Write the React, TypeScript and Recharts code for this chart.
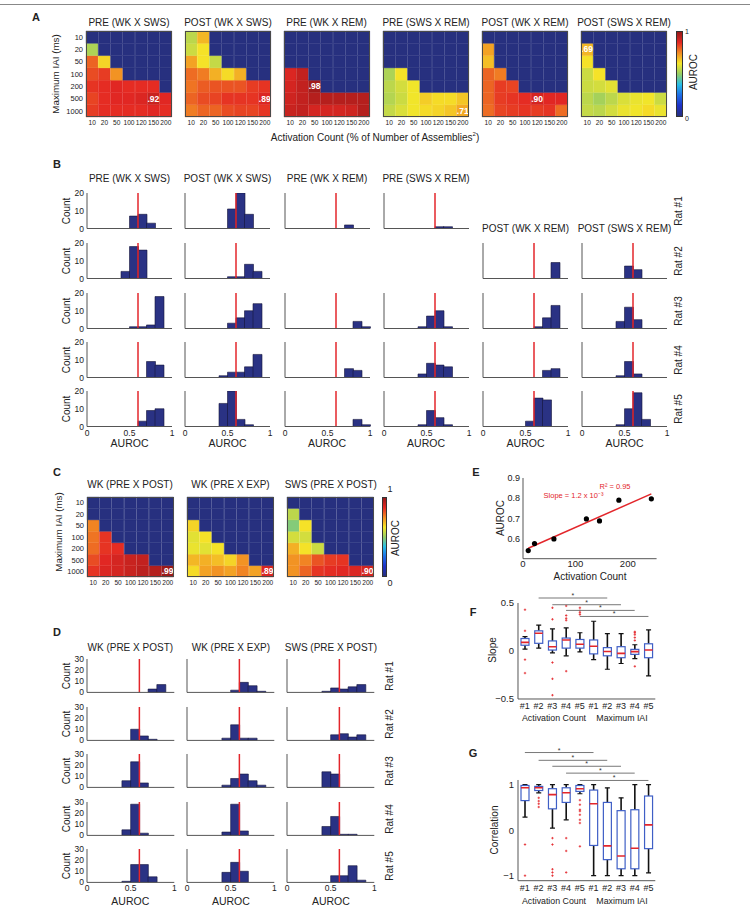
import React from "react";
import {
  BarChart,
  Bar,
  XAxis,
  YAxis,
  Cell,
  LabelList,
  ReferenceLine,
  ScatterChart,
  Scatter,
  ComposedChart,
} from "recharts";

const FONT = '"Liberation Sans", Arial, Helvetica, sans-serif';
const INK = "#222";
const AXIS = "#555";
const NAVY = "#2a3284";
const MASK = "#27307f";
const RED = "#e3262b";
const BOX_BLUE = "#3f5fc6";

// ---------- heatmaps (A, C) ----------
const ACT_COUNT = ["10", "20", "50", "100", "120", "150", "200"];
const MAX_IAI = ["10", "20", "50", "100", "200", "500", "1000"];
const _ = null;

// rows: max IAI 10 -> 1000 ms, cols: activation count 10 -> 200
const preWkSws = [
  [_, _, _, _, _, _, _],
  [0.53, _, _, _, _, _, _],
  [0.8, 0.65, _, _, _, _, _],
  [0.83, 0.85, 0.74, _, _, _, _],
  [0.86, 0.87, 0.88, 0.87, 0.87, 0.87, _],
  [0.84, 0.87, 0.88, 0.88, 0.89, 0.92, 0.88],
  [0.85, 0.87, 0.87, 0.87, 0.87, 0.88, 0.87],
];
const postWkSws = [
  [0.55, 0.69, _, _, _, _, _],
  [0.57, 0.63, _, _, _, _, _],
  [0.72, 0.63, 0.56, _, _, _, _],
  [0.79, 0.77, 0.7, 0.64, 0.7, _, _],
  [0.78, 0.81, 0.82, 0.82, 0.82, 0.85, 0.86],
  [0.8, 0.83, 0.84, 0.86, 0.86, 0.86, 0.89],
  [0.77, 0.8, 0.8, 0.83, 0.84, 0.84, 0.86],
];
const preWkRem = [
  [_, _, _, _, _, _, _],
  [_, _, _, _, _, _, _],
  [_, _, _, _, _, _, _],
  [0.89, 0.93, _, _, _, _, _],
  [0.9, 0.93, 0.98, _, _, _, _],
  [0.91, 0.93, 0.95, 0.95, 0.95, 0.95, 0.95],
  [0.92, 0.93, 0.9, 0.9, 0.9, 0.91, 0.95],
];
const preSwsRem = [
  [_, _, _, _, _, _, _],
  [_, _, _, _, _, _, _],
  [_, _, _, _, _, _, _],
  [0.53, 0.63, _, _, _, _, _],
  [0.55, 0.58, 0.62, _, _, _, _],
  [0.54, 0.57, 0.62, 0.66, 0.64, 0.64, 0.67],
  [0.56, 0.59, 0.62, 0.64, 0.65, 0.67, 0.71],
];
const postWkRem = [
  [_, _, _, _, _, _, _],
  [0.72, _, _, _, _, _, _],
  [0.68, _, _, _, _, _, _],
  [0.8, 0.77, _, _, _, _, _],
  [0.8, 0.85, 0.84, _, _, _, _],
  [0.8, 0.85, 0.86, 0.87, 0.9, 0.88, 0.88],
  [0.79, 0.84, 0.85, 0.86, 0.85, 0.86, 0.79],
];
const postSwsRem = [
  [_, _, _, _, _, _, _],
  [0.69, _, _, _, _, _, _],
  [0.63, _, _, _, _, _, _],
  [0.57, 0.63, _, _, _, _, _],
  [0.57, 0.58, 0.6, _, _, _, _],
  [0.55, 0.52, 0.55, 0.59, 0.61, 0.62, 0.57],
  [0.56, 0.55, 0.58, 0.61, 0.62, 0.64, 0.61],
];
const wkPrePost = [
  [_, _, _, _, _, _, _],
  [_, _, _, _, _, _, _],
  [0.76, _, _, _, _, _, _],
  [0.78, 0.86, _, _, _, _, _],
  [0.79, 0.86, 0.87, _, _, _, _],
  [0.83, 0.88, 0.9, 0.92, 0.93, _, _],
  [0.86, 0.89, 0.9, 0.92, 0.94, 0.95, 0.99],
];
const wkPreExp = [
  [_, _, _, _, _, _, _],
  [_, _, _, _, _, _, _],
  [0.65, _, _, _, _, _, _],
  [0.6, 0.63, _, _, _, _, _],
  [0.61, 0.6, 0.63, _, _, _, _],
  [0.69, 0.7, 0.68, 0.65, 0.74, _, _],
  [0.64, 0.72, 0.74, 0.72, 0.76, 0.72, 0.89],
];
const swsPrePost = [
  [_, _, _, _, _, _, _],
  [0.55, _, _, _, _, _, _],
  [0.48, 0.63, _, _, _, _, _],
  [0.58, 0.58, _, _, _, _, _],
  [0.7, 0.63, 0.57, _, _, _, _],
  [0.74, 0.76, 0.82, 0.85, 0.86, _, _],
  [0.74, 0.8, 0.86, 0.87, 0.88, 0.89, 0.9],
];

const A_TITLES = ["PRE (WK X SWS)", "POST (WK X SWS)", "PRE (WK X REM)", "PRE (SWS X REM)", "POST (WK X REM)", "POST (SWS X REM)"];
const A_GRIDS = [preWkSws, postWkSws, preWkRem, preSwsRem, postWkRem, postSwsRem];
const C_TITLES = ["WK (PRE X POST)", "WK (PRE X EXP)", "SWS (PRE X POST)"];
const C_GRIDS = [wkPrePost, wkPreExp, swsPrePost];

// jet-like colour scale for AUROC 0..1
const CMAP: [number, number[]][] = [
  [0, [39, 48, 127]],
  [0.125, [30, 50, 200]],
  [0.25, [30, 110, 230]],
  [0.375, [40, 190, 230]],
  [0.5, [150, 205, 100]],
  [0.625, [245, 230, 40]],
  [0.75, [242, 140, 35]],
  [0.875, [228, 40, 35]],
  [1, [150, 25, 25]],
];
function aurocColor(v: number) {
  for (let k = 1; k < CMAP.length; k++) {
    const [p0, c0] = CMAP[k - 1];
    const [p1, c1] = CMAP[k];
    if (v <= p1) {
      const t = Math.max(0, (v - p0) / (p1 - p0));
      return `rgb(${c0.map((c, i) => Math.round(c + (c1[i] - c) * t)).join(",")})`;
    }
  }
  return `rgb(${CMAP[CMAP.length - 1][1].join(",")})`;
}
const GRADIENT = `linear-gradient(to top, ${CMAP.map(([p, c]) => `rgb(${c.join(",")}) ${p * 100}%`).join(", ")})`;

// ---------- histograms (B, D) ----------
const BIN_CENTERS = [0.05, 0.15, 0.25, 0.35, 0.45, 0.55, 0.65, 0.75, 0.85, 0.95];
const THRESHOLD = 0.6;
const RATS = ["Rat #1", "Rat #2", "Rat #3", "Rat #4", "Rat #5"];

const bPreWkSws = [
  [0, 0, 0, 0, 0, 7, 8, 3, 0, 0],
  [0, 0, 0, 0, 4, 18, 16, 0, 0, 0],
  [0, 0, 0, 0, 0, 1, 1, 2, 18, 0],
  [0, 0, 0, 0, 0, 0, 0, 9, 7, 0],
  [0, 0, 0, 0, 0, 0, 3, 9, 10, 0],
];
const bPostWkSws = [
  [0, 0, 0, 0, 0, 11, 20, 8, 0, 0],
  [0, 0, 0, 0, 0, 1, 1, 8, 4, 0],
  [0, 0, 0, 0, 0, 3, 6, 10, 14, 0],
  [0, 0, 0, 0, 1, 3, 3, 6, 13, 0],
  [0, 0, 0, 0, 13, 20, 4, 1, 0, 0],
];
const bPreWkRem = [
  [0, 0, 0, 0, 0, 0, 0, 2, 0, 0],
  null,
  [0, 0, 0, 0, 0, 0, 0, 0, 4, 1],
  [0, 0, 0, 0, 0, 0, 0, 5, 4, 0],
  [0, 0, 0, 0, 0, 0, 0, 0, 4, 1],
];
const bPreSwsRem = [
  [0, 0, 0, 0, 0, 0, 1, 1, 0, 0],
  null,
  [0, 0, 0, 0, 1, 7, 10, 1, 0, 0],
  [0, 0, 0, 0, 2, 8, 7, 6, 0, 0],
  [0, 0, 0, 0, 1, 9, 5, 1, 0, 0],
];
const bPostWkRem = [
  null,
  [0, 0, 0, 0, 0, 0, 0, 0, 9, 0],
  [0, 0, 0, 0, 0, 0, 1, 6, 13, 0],
  [0, 0, 0, 0, 0, 0, 0, 4, 5, 0],
  [0, 0, 0, 0, 0, 3, 16, 15, 0, 0],
];
const bPostSwsRem = [
  null,
  [0, 0, 0, 0, 0, 7, 5, 0, 0, 0],
  [0, 0, 0, 0, 4, 12, 5, 0, 0, 0],
  [0, 0, 0, 0, 1, 9, 2, 0, 0, 0],
  [0, 0, 0, 0, 1, 10, 19, 4, 0, 0],
];
const B_COLS = [bPreWkSws, bPostWkSws, bPreWkRem, bPreSwsRem, bPostWkRem, bPostSwsRem];

const dWkPrePost = [
  [0, 0, 0, 0, 0, 0, 0, 3, 7, 0],
  [0, 0, 0, 0, 0, 10, 4, 1, 0, 0],
  [0, 0, 0, 0, 6, 23, 4, 0, 0, 0],
  [0, 0, 0, 0, 5, 28, 2, 0, 0, 0],
  [0, 0, 0, 0, 1, 16, 16, 5, 0, 0],
];
const dWkPreExp = [
  [0, 0, 0, 0, 0, 2, 9, 6, 1, 0],
  [0, 0, 0, 0, 2, 14, 2, 2, 0, 0],
  [0, 0, 0, 0, 2, 8, 12, 6, 2, 0],
  [0, 0, 0, 0, 3, 28, 4, 0, 0, 0],
  [0, 0, 0, 0, 9, 18, 10, 0, 0, 0],
];
const dSwsPrePost = [
  [0, 0, 0, 0, 1, 4, 3, 5, 7, 0],
  [0, 0, 0, 0, 0, 5, 6, 3, 5, 0],
  [0, 0, 0, 0, 14, 12, 0, 0, 0, 0],
  [0, 0, 0, 0, 8, 17, 1, 1, 0, 0],
  [0, 0, 0, 0, 0, 6, 6, 15, 2, 0],
];
const D_COLS = [dWkPrePost, dWkPreExp, dSwsPrePost];

// ---------- E: AUROC vs activation count ----------
const E_COUNT = [10, 22, 59, 121, 146, 183, 245];
const E_AUROC = [0.54, 0.575, 0.598, 0.697, 0.687, 0.79, 0.797];

// ---------- F / G: box plots ----------
const GROUP_KEYS = ["ac1", "ac2", "ac3", "ac4", "ac5", "iai1", "iai2", "iai3", "iai4", "iai5"];

const F_LO = [0.02, 0.03, -0.02, -0.05, -0.01, -0.09, -0.19, -0.13, -0.08, -0.26];
const F_Q1 = [0.06, 0.08, 0.01, 0.03, 0.03, -0.03, -0.05, -0.07, -0.035, -0.07];
const F_MED = [0.09, 0.185, 0.045, 0.115, 0.07, 0.05, -0.005, -0.025, -0.007, 0.01];
const F_Q3 = [0.13, 0.21, 0.105, 0.135, 0.12, 0.115, 0.035, 0.045, 0.017, 0.075];
const F_HI = [0.15, 0.27, 0.23, 0.24, 0.19, 0.31, 0.18, 0.18, 0.065, 0.22];
const F_OUT = [
  [0.43, 0.21, -0.09, -0.23],
  [],
  [0.45, 0.33, -0.12, -0.29, -0.46],
  [0.47, 0.37, 0.34, 0.32, -0.21],
  [0.45, 0.42, 0.4, 0.38],
  [],
  [],
  [],
  [0.2, 0.19, 0.17, 0.14, 0.11, -0.16],
  [],
];
const F_SIG = [
  { from: "ac2", to: "iai2", at: 0.552 },
  { from: "ac3", to: "iai3", at: 0.482 },
  { from: "ac4", to: "iai4", at: 0.423 },
  { from: "ac5", to: "iai5", at: 0.36 },
];

const G_LO = [0.29, 0.82, 0.05, 0.23, 0.8, -0.99, -0.99, -0.99, -0.99, -0.93];
const G_Q1 = [0.65, 0.87, 0.47, 0.61, 0.85, -0.33, -0.64, -0.84, -0.84, -0.4];
const G_MED = [0.93, 0.93, 0.78, 0.82, 0.91, 0.58, -0.34, -0.56, -0.39, 0.12];
const G_Q3 = [0.98, 0.96, 0.91, 0.93, 0.98, 0.88, 0.61, 0.43, 0.45, 0.75];
const G_HI = [1.0, 1.0, 1.0, 1.0, 1.0, 1.0, 0.93, 0.71, 1.0, 1.0];
const G_OUT = [
  [-0.31, -0.99],
  [0.71, 0.64, 0.58, 0.51],
  [-0.17, -0.31, -0.85, -0.92, -0.99],
  [-0.17, -0.45, -0.92],
  [0.66, 0.56, 0.45, 0.42, 0.34, 0.23, 0.16, -0.35],
  [],
  [],
  [],
  [],
  [],
];
const G_SIG = [
  { from: "ac1", to: "iai1", at: 1.7 },
  { from: "ac2", to: "iai2", at: 1.53 },
  { from: "ac3", to: "iai3", at: 1.4 },
  { from: "ac4", to: "iai4", at: 1.25 },
  { from: "ac5", to: "iai5", at: 1.09 },
];

// ---------- layout ----------
const A_LEFT = [86, 185, 283.5, 383, 482, 581];
const C_LEFT = [86.5, 187, 287.3];
const B_LEFT = [87, 185, 284.5, 383.5, 483, 582];
const B_TOP = [193.3, 242.7, 292.7, 342.3, 390.7];
const D_LEFT = [86.7, 187.3, 287.3];
const D_TOP = [659.3, 706.7, 754, 801.7, 849.3];

function Txt({ x, y, size = 10, rot = 0, bold = false, color = INK, children }: any) {
  return (
    <div
      style={{
        position: "absolute",
        left: x,
        top: y,
        transform: `translate(-50%, -50%) rotate(${rot}deg)`,
        whiteSpace: "nowrap",
        fontSize: size,
        lineHeight: 1,
        fontWeight: bold ? "bold" : "normal",
        color,
        fontFamily: FONT,
      }}
    >
      {children}
    </div>
  );
}

const tickStyle = (size: number) => ({ fontSize: size, fill: INK, fontFamily: FONT });
const signed = (v: number) => (v < 0 ? "\u2212" + Math.abs(v) : String(v));

function bestLabel(p: any, best: number) {
  const vb = p.viewBox ?? p;
  if (p.value == null || p.value !== best) return null;
  return (
    <text
      x={vb.x + vb.width / 2}
      y={vb.y + vb.height / 2}
      dy="0.36em"
      textAnchor="middle"
      fill="#fff"
      fontSize={8.5}
      fontWeight="bold"
      fontFamily={FONT}
    >
      {p.value.toFixed(2).slice(1)}
    </text>
  );
}

function Heatmap({ x, y, w, h, grid, showY }: any) {
  const YW = 24, XH = 12, MT = 2, MR = 3;
  const best = Math.max(...grid.flat().filter((v: any) => v != null));
  const data = ACT_COUNT.map((ac, j) => {
    const d: any = { ac };
    MAX_IAI.forEach((_r, i) => {
      d[`u${i}`] = 1;
      d[`v${i}`] = grid[i][j];
    });
    return d;
  });
  const rowsBottomUp = [6, 5, 4, 3, 2, 1, 0];
  return (
    <>
      <div style={{ position: "absolute", left: x - YW, top: y - MT }}>
        <BarChart
          width={w + YW + MR}
          height={h + MT + XH}
          data={data}
          margin={{ top: MT, right: MR, bottom: 0, left: 0 }}
          barCategoryGap={0}
          barGap={0}
        >
          <XAxis
            dataKey="ac"
            interval={0}
            height={XH}
            tickLine={false}
            axisLine={false}
            tickSize={2}
            tickMargin={1}
            tick={tickStyle(6.6)}
          />
          <YAxis
            type="number"
            domain={[0, 7]}
            ticks={[0.5, 1.5, 2.5, 3.5, 4.5, 5.5, 6.5]}
            interval={0}
            width={YW}
            tickLine={false}
            axisLine={false}
            tickSize={2}
            tickMargin={1}
            tick={showY ? tickStyle(7.5) : false}
            tickFormatter={(v: number) => MAX_IAI[Math.round(6.5 - v)]}
          />
          {rowsBottomUp.map((i) => (
            <Bar key={i} dataKey={`u${i}`} stackId="cells" isAnimationActive={false}>
              {data.map((d, j) => {
                const v = d[`v${i}`];
                const c = v == null ? MASK : aurocColor(v);
                return <Cell key={j} fill={c} stroke={c} strokeWidth={0.4} />;
              })}
              <LabelList dataKey={`v${i}`} content={(p: any) => bestLabel(p, best)} />
            </Bar>
          ))}
        </BarChart>
      </div>
      <div
        style={{
          position: "absolute",
          left: x,
          top: y,
          width: w,
          height: h,
          border: "1px solid #4a4a4a",
          boxSizing: "border-box",
          pointerEvents: "none",
        }}
      />
    </>
  );
}

function Colorbar({ x, y, w, h }: any) {
  return (
    <div
      style={{
        position: "absolute",
        left: x,
        top: y,
        width: w,
        height: h,
        background: GRADIENT,
        border: "1px solid #333",
        boxSizing: "border-box",
      }}
    />
  );
}

function Hist({ x, y, w, h, counts, yMax, yTicks, showY, showX }: any) {
  const YW = 20, XH = 12, MT = 5, MR = 5;
  const data = BIN_CENTERS.map((c, i) => ({ bin: i, center: c, n: counts[i] > 0 ? counts[i] : null }));
  return (
    <div style={{ position: "absolute", left: x - YW, top: y - MT }}>
      <BarChart
        width={w + YW + MR}
        height={h + MT + XH}
        data={data}
        margin={{ top: MT, right: MR, bottom: 0, left: 0 }}
        barCategoryGap={0}
        barGap={0}
      >
        <XAxis
          xAxisId="num"
          dataKey="center"
          type="number"
          domain={[0, 1]}
          ticks={[0, 0.5, 1]}
          interval={0}
          allowDataOverflow
          height={XH}
          tickLine={false}
          axisLine={{ stroke: AXIS }}
          tickSize={2}
          tickMargin={1}
          tick={showX ? tickStyle(8.5) : false}
        />
        <XAxis xAxisId="bins" dataKey="bin" type="category" height={0} hide />
        <YAxis
          type="number"
          domain={[0, yMax]}
          ticks={yTicks}
          interval={0}
          allowDataOverflow
          width={YW}
          tickLine={false}
          axisLine={{ stroke: AXIS }}
          tickSize={2}
          tickMargin={1}
          tick={showY ? tickStyle(8.5) : false}
        />
        <Bar xAxisId="bins" dataKey="n" fill={NAVY} stroke="#15163a" strokeWidth={0.6} isAnimationActive={false} />
        <ReferenceLine xAxisId="num" x={THRESHOLD} stroke={RED} strokeWidth={1.5} />
      </BarChart>
    </div>
  );
}

function BoxShape(props: any) {
  const { x, y, width, height, payload } = props;
  const { lo, q1, med, q3, hi, out } = payload;
  const py = (v: number) => y + ((hi - v) / (hi - lo)) * height;
  const cx = x + width / 2;
  return (
    <g>
      <line x1={cx} x2={cx} y1={py(hi)} y2={py(q3)} stroke="#111" strokeWidth={1.6} />
      <line x1={cx} x2={cx} y1={py(q1)} y2={py(lo)} stroke="#111" strokeWidth={1.6} />
      <line x1={cx - 2.5} x2={cx + 2.5} y1={py(hi)} y2={py(hi)} stroke="#111" strokeWidth={1.2} />
      <line x1={cx - 2.5} x2={cx + 2.5} y1={py(lo)} y2={py(lo)} stroke="#111" strokeWidth={1.2} />
      <rect x={x} y={py(q3)} width={width} height={Math.max(1, py(q1) - py(q3))} fill="#fff" stroke={BOX_BLUE} strokeWidth={1.2} />
      <line x1={x} x2={x + width} y1={py(med)} y2={py(med)} stroke={RED} strokeWidth={1.6} />
      {out.map((v: number, k: number) => (
        <g key={k} stroke={RED} strokeWidth={0.8}>
          <line x1={cx - 1.2} x2={cx + 1.2} y1={py(v)} y2={py(v)} />
          <line x1={cx} x2={cx} y1={py(v) - 1.2} y2={py(v) + 1.2} />
        </g>
      ))}
    </g>
  );
}

function BoxPanel({ x, y, w, h, lo, q1, med, q3, hi, out, domain, ticks, sig, mt }: any) {
  const YW = 30, XH = 14, MR = 4;
  const data = GROUP_KEYS.map((k, i) => ({
    k,
    lo: lo[i],
    q1: q1[i],
    med: med[i],
    q3: q3[i],
    hi: hi[i],
    out: out[i],
    whisker: [lo[i], hi[i]],
  }));
  return (
    <div style={{ position: "absolute", left: x - YW, top: y - mt }}>
      <ComposedChart
        width={w + YW + MR}
        height={h + mt + XH}
        data={data}
        margin={{ top: mt, right: MR, bottom: 0, left: 0 }}
      >
        <XAxis
          dataKey="k"
          type="category"
          interval={0}
          height={XH}
          tickFormatter={(k: string) => "#" + k.slice(-1)}
          tickLine={false}
          axisLine={{ stroke: AXIS }}
          tickSize={2}
          tickMargin={2}
          tick={tickStyle(9)}
        />
        <YAxis
          type="number"
          domain={domain}
          ticks={ticks}
          interval={0}
          allowDataOverflow
          width={YW}
          tickFormatter={signed}
          tickLine={false}
          axisLine={{ stroke: AXIS }}
          tickSize={2}
          tickMargin={2}
          tick={tickStyle(9.5)}
        />
        <Bar dataKey="whisker" barSize={8} shape={BoxShape} isAnimationActive={false} />
        {sig.map((s: any, i: number) => (
          <ReferenceLine
            key={i}
            segment={[
              { x: s.from, y: s.at },
              { x: s.to, y: s.at },
            ]}
            stroke="#777"
            strokeWidth={1}
            ifOverflow="visible"
            label={{ value: "*", position: "top", offset: 0, fontSize: 7, fill: "#333" }}
          />
        ))}
      </ComposedChart>
    </div>
  );
}

function AurocFit() {
  const pts = E_COUNT.map((c, i) => ({ x: c, y: E_AUROC[i] }));
  // least-squares line through the points
  const n = pts.length;
  const mx = pts.reduce((s, p) => s + p.x, 0) / n;
  const my = pts.reduce((s, p) => s + p.y, 0) / n;
  const sxy = pts.reduce((s, p) => s + (p.x - mx) * (p.y - my), 0);
  const sxx = pts.reduce((s, p) => s + (p.x - mx) ** 2, 0);
  const slope = sxy / sxx;
  const icpt = my - slope * mx;
  const x0 = Math.min(...E_COUNT);
  const x1 = Math.max(...E_COUNT);
  const fit = [
    { x: x0, y: icpt + slope * x0 },
    { x: x1, y: icpt + slope * x1 },
  ];
  const left = 523.3, top = 478.3, w = 133.6, h = 80.7;
  const YW = 26, XH = 13, MT = 4, MR = 4;
  return (
    <div style={{ position: "absolute", left: left - YW, top: top - MT }}>
      <ScatterChart width={w + YW + MR} height={h + MT + XH} margin={{ top: MT, right: MR, bottom: 0, left: 0 }}>
        <XAxis
          type="number"
          dataKey="x"
          domain={[0, 255]}
          ticks={[0, 100, 200]}
          interval={0}
          height={XH}
          tickLine={false}
          axisLine={{ stroke: AXIS }}
          tickSize={1}
          tickMargin={1}
          tick={tickStyle(9.5)}
        />
        <YAxis
          type="number"
          dataKey="y"
          domain={[0.5, 0.9]}
          ticks={[0.6, 0.7, 0.8, 0.9]}
          interval={0}
          allowDataOverflow
          width={YW}
          tickLine={false}
          axisLine={{ stroke: AXIS }}
          tickSize={2}
          tickMargin={1}
          tick={tickStyle(9)}
        />
        <Scatter data={fit} line={{ stroke: RED, strokeWidth: 1.5 }} shape={() => <g />} isAnimationActive={false} />
        <Scatter
          data={pts}
          shape={(p: any) => <circle cx={p.cx} cy={p.cy} r={2.6} fill="#000" />}
          isAnimationActive={false}
        />
      </ScatterChart>
    </div>
  );
}

export default function App() {
  return (
    <div
      style={{
        position: "absolute",
        left: 0,
        top: 0,
        width: 750,
        height: 923,
        background: "#fff",
        fontFamily: FONT,
        overflow: "hidden",
      }}
    >
      <div style={{ position: "absolute", left: 0, top: 4, width: 750, height: 1, background: "#888" }} />

      {/* A */}
      <Txt x={36} y={17} size={11} bold>A</Txt>
      {A_GRIDS.map((g, k) => (
        <React.Fragment key={k}>
          <Txt x={A_LEFT[k] + 43} y={22.5}>{A_TITLES[k]}</Txt>
          <Heatmap x={A_LEFT[k]} y={31} w={86} h={86} grid={g} showY={k === 0} />
        </React.Fragment>
      ))}
      <Txt x={56} y={74} size={9.8} rot={-90}>Maximum IAI (ms)</Txt>
      <Txt x={375} y={137} size={10}>
        Activation Count (% of Number of Assemblies<sup style={{ fontSize: 6 }}>2</sup>)
      </Txt>
      <Colorbar x={676} y={31} w={6.5} h={86} />
      <Txt x={687} y={30.5} size={7}>1</Txt>
      <Txt x={687} y={117.5} size={7}>0</Txt>
      <Txt x={694} y={72} size={10} rot={-90}>AUROC</Txt>

      {/* B */}
      <Txt x={57} y={163.7} size={11} bold>B</Txt>
      {B_COLS.map((col, c) => (
        <React.Fragment key={c}>
          <Txt x={B_LEFT[c] + 42.5} y={c < 4 ? 179.3 : 229.3}>{A_TITLES[c]}</Txt>
          <Txt x={B_LEFT[c] + 42.5} y={442.5} size={10.5}>AUROC</Txt>
          {col.map((counts, r) =>
            counts ? (
              <Hist
                key={r}
                x={B_LEFT[c]}
                y={B_TOP[r]}
                w={85}
                h={35.5}
                counts={counts}
                yMax={20}
                yTicks={[0, 10, 20]}
                showY={c === 0}
                showX={r === 4}
              />
            ) : null
          )}
        </React.Fragment>
      ))}
      {RATS.map((r, i) => (
        <React.Fragment key={r}>
          <Txt x={67} y={B_TOP[i] + 18} size={10} rot={-90}>Count</Txt>
          <Txt x={679} y={B_TOP[i] + 18} size={10} rot={-90}>{r}</Txt>
        </React.Fragment>
      ))}

      {/* C */}
      <Txt x={57} y={472} size={11} bold>C</Txt>
      {C_GRIDS.map((g, k) => (
        <React.Fragment key={k}>
          <Txt x={C_LEFT[k] + 43.5} y={485}>{C_TITLES[k]}</Txt>
          <Heatmap x={C_LEFT[k]} y={497} w={87} h={80} grid={g} showY={k === 0} />
        </React.Fragment>
      ))}
      <Txt x={59} y={532} size={9.8} rot={-90}>Maximum IAI (ms)</Txt>
      <Colorbar x={381.7} y={497} w={5.5} h={80} />
      <Txt x={390} y={488.5} size={9}>1</Txt>
      <Txt x={390} y={582.5} size={9}>0</Txt>
      <Txt x={396} y={538} size={10} rot={-90}>AUROC</Txt>

      {/* D */}
      <Txt x={57} y={632} size={11} bold>D</Txt>
      {D_COLS.map((col, c) => (
        <React.Fragment key={c}>
          <Txt x={D_LEFT[c] + 43.6} y={648.3}>{C_TITLES[c]}</Txt>
          <Txt x={D_LEFT[c] + 43.6} y={900.5} size={10.5}>AUROC</Txt>
          {col.map((counts, r) => (
            <Hist
              key={r}
              x={D_LEFT[c]}
              y={D_TOP[r]}
              w={87.3}
              h={33.4}
              counts={counts}
              yMax={30}
              yTicks={[0, 10, 20, 30]}
              showY={c === 0}
              showX={r === 4}
            />
          ))}
        </React.Fragment>
      ))}
      {RATS.map((r, i) => (
        <React.Fragment key={r}>
          <Txt x={67} y={D_TOP[i] + 17} size={10} rot={-90}>Count</Txt>
          <Txt x={390} y={D_TOP[i] + 17} size={10} rot={-90}>{r}</Txt>
        </React.Fragment>
      ))}

      {/* E */}
      <Txt x={476} y={472} size={11} bold>E</Txt>
      <AurocFit />
      <Txt x={501} y={518} size={10} rot={-90}>AUROC</Txt>
      <Txt x={590} y={577} size={10}>Activation Count</Txt>
      <Txt x={615} y={486.7} size={7.5} color={RED}>R² = 0.95</Txt>
      <Txt x={573.5} y={496} size={7.5} color={RED}>Slope = 1.2 x 10⁻³</Txt>

      {/* F */}
      <Txt x={473} y={612} size={11} bold>F</Txt>
      <BoxPanel
        x={517.7}
        y={603.3}
        w={137.3}
        h={96}
        lo={F_LO}
        q1={F_Q1}
        med={F_MED}
        q3={F_Q3}
        hi={F_HI}
        out={F_OUT}
        domain={[-0.5, 0.5]}
        ticks={[-0.5, 0, 0.5]}
        sig={F_SIG}
        mt={14}
      />
      <Txt x={493} y={650} size={10} rot={-90}>Slope</Txt>
      <Txt x={554} y={717.5} size={8.8}>Activation Count</Txt>
      <Txt x={622} y={717.5} size={8.8}>Maximum IAI</Txt>

      {/* G */}
      <Txt x={473} y={753} size={11} bold>G</Txt>
      <BoxPanel
        x={517.7}
        y={780}
        w={137.3}
        h={100.7}
        lo={G_LO}
        q1={G_Q1}
        med={G_MED}
        q3={G_Q3}
        hi={G_HI}
        out={G_OUT}
        domain={[-1.1, 1.1]}
        ticks={[-1, 0, 1]}
        sig={G_SIG}
        mt={36}
      />
      <Txt x={495} y={830} size={10} rot={-90}>Correlation</Txt>
      <Txt x={554} y={901} size={8.8}>Activation Count</Txt>
      <Txt x={622} y={901} size={8.8}>Maximum IAI</Txt>
    </div>
  );
}
